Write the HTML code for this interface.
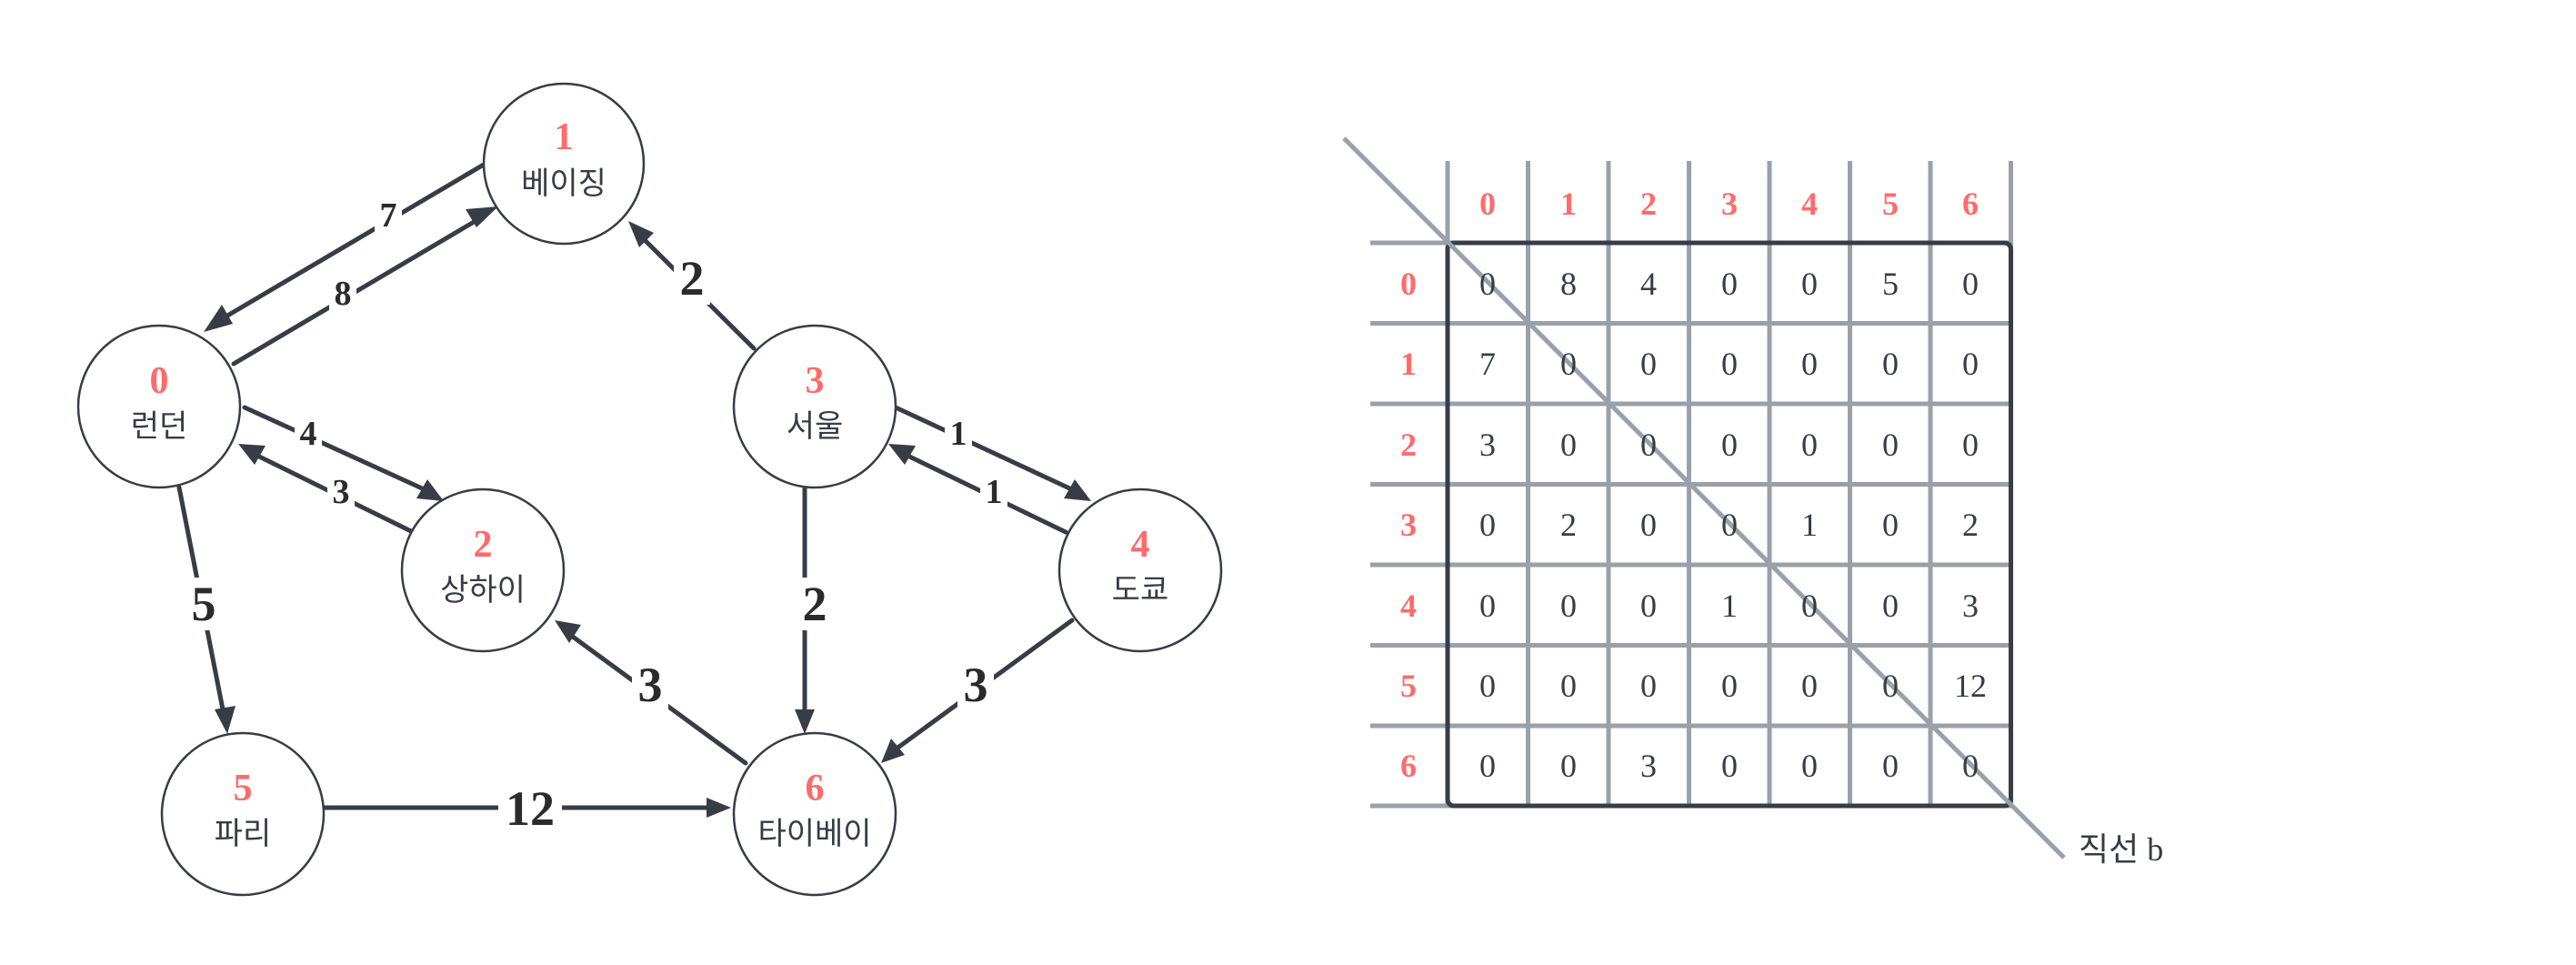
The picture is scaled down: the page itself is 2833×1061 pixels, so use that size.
<!DOCTYPE html>
<html><head><meta charset="utf-8"><style>html,body{margin:0;padding:0;background:#fff}svg{display:block}</style></head>
<body>
<svg width="2833" height="1061" viewBox="0 0 2833 1061" xmlns="http://www.w3.org/2000/svg">
<defs>
<marker id="a" viewBox="0 0 10 10" refX="9" refY="5" markerWidth="7" markerHeight="7" markerUnits="userSpaceOnUse" orient="auto" style="overflow:visible">
</marker>
</defs>
<g stroke="#373c45" stroke-width="5" fill="none" stroke-linecap="round">
<!-- edges: line to near tip -->
<line x1="537" y1="178" x2="240" y2="353"/>
<line x1="257" y1="400" x2="533" y2="237"/>
<line x1="269" y1="448" x2="473" y2="541"/>
<line x1="454" y1="585" x2="277" y2="498"/>
<line x1="197" y1="536" x2="247" y2="790"/>
<line x1="829" y1="383" x2="702" y2="257"/>
<line x1="985" y1="448" x2="1185" y2="541"/>
<line x1="1172" y1="585" x2="992" y2="498"/>
<line x1="885" y1="537" x2="885" y2="790"/>
<line x1="820" y1="839" x2="623" y2="695"/>
<line x1="1179" y1="682" x2="982" y2="826"/>
<line x1="357" y1="888" x2="787" y2="888"/>
</g>
<g fill="#373c45">
<polygon points="224,365 244,335 256,356"/>
<polygon points="548,227 524,250 512,230"/>
<polygon points="488,551 458,548 470,527"/>
<polygon points="262,488 292,490 280,511"/>
<polygon points="250,807 236,780 259,776"/>
<polygon points="691,243 719,256 703,272"/>
<polygon points="1200,551 1170,548 1182,527"/>
<polygon points="977,488 1007,490 995,511"/>
<polygon points="885,807 874,780 896,780"/>
<polygon points="610,682 639,687 626,707"/>
<polygon points="969,839 980,812 995,830"/>
<polygon points="804,888 777,877 777,899"/>
</g>
<!-- edge label backgrounds -->
<g fill="#fff">
<rect x="412" y="215" width="30" height="40"/>
<rect x="362" y="302" width="30" height="42"/>
<rect x="324" y="455" width="30" height="42"/>
<rect x="360" y="520" width="30" height="42"/>
<rect x="204" y="635" width="40" height="58"/>
<rect x="741" y="277" width="40" height="58"/>
<rect x="1039" y="455" width="30" height="42"/>
<rect x="1078" y="520" width="30" height="42"/>
<rect x="876" y="635" width="40" height="58"/>
<rect x="695" y="724" width="40" height="58"/>
<rect x="1053" y="724" width="40" height="58"/>
<rect x="548" y="860" width="70" height="58"/>
</g>
<g font-family="Liberation Serif, serif" font-weight="bold" fill="#2b2b2b" text-anchor="middle" dominant-baseline="central">
<text x="427" y="237" font-size="38">7</text>
<text x="377" y="323" font-size="38">8</text>
<text x="339" y="477" font-size="38">4</text>
<text x="375" y="541" font-size="38">3</text>
<text x="224" y="664" font-size="54">5</text>
<text x="761" y="306" font-size="54">2</text>
<text x="1054" y="477" font-size="38">1</text>
<text x="1093" y="541" font-size="38">1</text>
<text x="896" y="664" font-size="54">2</text>
<text x="715" y="753" font-size="54">3</text>
<text x="1073" y="753" font-size="54">3</text>
<text x="583" y="889" font-size="54">12</text>
</g>
<!-- nodes -->
<g fill="#fff" stroke="#373c45" stroke-width="2.5">
<circle cx="175" cy="447" r="89"/>
<circle cx="620" cy="180" r="88"/>
<circle cx="531" cy="627" r="89"/>
<circle cx="896" cy="447" r="89"/>
<circle cx="1254" cy="627" r="89"/>
<circle cx="267" cy="895" r="89"/>
<circle cx="896" cy="895" r="89"/>
</g>
<g font-family="Liberation Serif, serif" font-weight="bold" fill="#ff6b6b" font-size="42" text-anchor="middle">
<text x="175" y="432">0</text>
<text x="620" y="164">1</text>
<text x="531" y="612">2</text>
<text x="896" y="432">3</text>
<text x="1254" y="612">4</text>
<text x="267" y="880">5</text>
<text x="896" y="880">6</text>
</g>
<g font-family="Liberation Sans, 'Noto Sans CJK KR', 'NanumGothic', sans-serif" fill="#373c45" font-size="34" text-anchor="middle">
<text x="175" y="480">런던</text>
<text x="620" y="213">베이징</text>
<text x="531" y="660">상하이</text>
<text x="896" y="480">서울</text>
<text x="1254" y="660">도쿄</text>
<text x="267" y="928">파리</text>
<text x="896" y="928">타이베이</text>
</g>
<!-- matrix -->
<g stroke="#9aa0a8" stroke-width="5">
<line x1="1592" y1="177" x2="1592" y2="885"/>
<line x1="1680.5" y1="177" x2="1680.5" y2="885"/>
<line x1="1769" y1="177" x2="1769" y2="885"/>
<line x1="1857.5" y1="177" x2="1857.5" y2="885"/>
<line x1="1946" y1="177" x2="1946" y2="885"/>
<line x1="2034.5" y1="177" x2="2034.5" y2="885"/>
<line x1="2123" y1="177" x2="2123" y2="885"/>
<line x1="2211.5" y1="177" x2="2211.5" y2="885"/>
<line x1="1507" y1="267" x2="2212" y2="267"/>
<line x1="1507" y1="355.5" x2="2212" y2="355.5"/>
<line x1="1507" y1="444" x2="2212" y2="444"/>
<line x1="1507" y1="532.5" x2="2212" y2="532.5"/>
<line x1="1507" y1="621" x2="2212" y2="621"/>
<line x1="1507" y1="709.5" x2="2212" y2="709.5"/>
<line x1="1507" y1="798" x2="2212" y2="798"/>
<line x1="1507" y1="886" x2="2212" y2="886"/>
</g>
<rect x="1592" y="267" width="619.5" height="619" rx="7" fill="none" stroke="#373c45" stroke-width="5"/>
<line x1="1478" y1="152" x2="2270" y2="943" stroke="#9aa0a8" stroke-width="5"/>
<g font-family="Liberation Serif, serif" font-weight="bold" fill="#ff6b6b" font-size="36" text-anchor="middle" dominant-baseline="central">
<text x="1636" y="224">0</text><text x="1725" y="224">1</text><text x="1813" y="224">2</text><text x="1902" y="224">3</text><text x="1990" y="224">4</text><text x="2079" y="224">5</text><text x="2167" y="224">6</text>
<text x="1549" y="312">0</text><text x="1549" y="400">1</text><text x="1549" y="489">2</text><text x="1549" y="577">3</text><text x="1549" y="666">4</text><text x="1549" y="754">5</text><text x="1549" y="842">6</text>
</g>
<g font-family="Liberation Serif, serif" fill="#373c45" font-size="36" text-anchor="middle" dominant-baseline="central">
<text x="1636" y="312">0</text><text x="1725" y="312">8</text><text x="1813" y="312">4</text><text x="1902" y="312">0</text><text x="1990" y="312">0</text><text x="2079" y="312">5</text><text x="2167" y="312">0</text>
<text x="1636" y="400">7</text><text x="1725" y="400">0</text><text x="1813" y="400">0</text><text x="1902" y="400">0</text><text x="1990" y="400">0</text><text x="2079" y="400">0</text><text x="2167" y="400">0</text>
<text x="1636" y="489">3</text><text x="1725" y="489">0</text><text x="1813" y="489">0</text><text x="1902" y="489">0</text><text x="1990" y="489">0</text><text x="2079" y="489">0</text><text x="2167" y="489">0</text>
<text x="1636" y="577">0</text><text x="1725" y="577">2</text><text x="1813" y="577">0</text><text x="1902" y="577">0</text><text x="1990" y="577">1</text><text x="2079" y="577">0</text><text x="2167" y="577">2</text>
<text x="1636" y="666">0</text><text x="1725" y="666">0</text><text x="1813" y="666">0</text><text x="1902" y="666">1</text><text x="1990" y="666">0</text><text x="2079" y="666">0</text><text x="2167" y="666">3</text>
<text x="1636" y="754">0</text><text x="1725" y="754">0</text><text x="1813" y="754">0</text><text x="1902" y="754">0</text><text x="1990" y="754">0</text><text x="2079" y="754">0</text><text x="2167" y="754">12</text>
<text x="1636" y="842">0</text><text x="1725" y="842">0</text><text x="1813" y="842">3</text><text x="1902" y="842">0</text><text x="1990" y="842">0</text><text x="2079" y="842">0</text><text x="2167" y="842">0</text>
</g>
<text x="2286" y="946" font-family="Liberation Serif, 'Noto Sans CJK KR', sans-serif" fill="#373c45" font-size="36">직선 b</text>
</svg>
</body></html>
